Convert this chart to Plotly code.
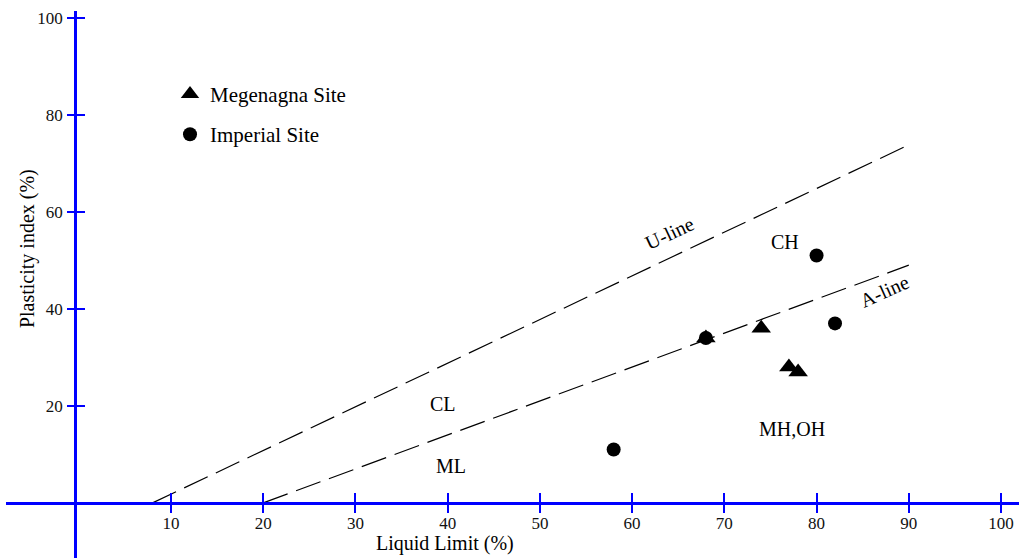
import plotly.graph_objects as go

# ---- data ----
meg_ll = [68, 74, 77, 78]
meg_pi = [34, 36, 28, 27]
imp_ll = [58, 68, 80, 82]
imp_pi = [11, 34, 51, 37]
u_line_ll = [8, 90]
u_line_pi = [0, 73.8]
a_line_ll = [20, 90]
a_line_pi = [0, 49]
x_ticks = [10, 20, 30, 40, 50, 60, 70, 80, 90, 100]
y_ticks = [20, 40, 60, 80, 100]

W, H = 1019, 558
x_range = [-7.89, 101.95]
y_range = [-11.36, 101.4]
x_dom = [6 / W, 1]
y_dom = [0, 1 - 9 / H]
y_axis_pos = 75 / W
x_axis_pos = y_dom[0] + (0 - y_range[0]) / (y_range[1] - y_range[0]) * (y_dom[1] - y_dom[0])

SERIF = "Liberation Serif"
dash = "26px,9px"
BLUE = "#0000FF"

fig = go.Figure()
fig.add_trace(go.Scatter(x=u_line_ll, y=u_line_pi, mode="lines", xaxis="x2", yaxis="y2",
                         line=dict(color="black", width=1.2, dash=dash), showlegend=False, hoverinfo="skip"))
fig.add_trace(go.Scatter(x=a_line_ll, y=a_line_pi, mode="lines",
                         line=dict(color="black", width=1.2, dash=dash), showlegend=False, hoverinfo="skip"))
fig.add_trace(go.Scatter(x=meg_ll, y=meg_pi, mode="markers", name="Megenagna Site", legendgroup="a",
                         marker=dict(symbol="triangle-up", size=17, color="black")))
fig.add_trace(go.Scatter(x=imp_ll, y=imp_pi, mode="markers", name="Imperial Site", legendgroup="b",
                         marker=dict(symbol="circle", size=14, color="black")))

tickfont = dict(family=SERIF, size=17, color="#111111")
common = dict(showgrid=False, zeroline=False)
fig.update_layout(
    width=W, height=H, margin=dict(l=0, r=0, t=0, b=0),
    plot_bgcolor="white", paper_bgcolor="white",
    xaxis=dict(domain=x_dom, range=x_range, anchor="free", position=x_axis_pos,
               showline=True, linecolor=BLUE, linewidth=2.5,
               ticks="inside", ticklen=9, tickwidth=2, tickcolor=BLUE, ticklabelstandoff=4,
               tickvals=x_ticks, tickfont=tickfont, **common),
    xaxis2=dict(overlaying="x", range=x_range, anchor="free", position=x_axis_pos,
                showline=False, ticks="outside", ticklen=9, tickwidth=2, tickcolor=BLUE,
                tickvals=x_ticks, showticklabels=False, **common),
    yaxis=dict(domain=y_dom, range=y_range, anchor="free", position=y_axis_pos,
               showline=True, linecolor=BLUE, linewidth=2.5,
               ticks="inside", ticklen=8, tickwidth=2, tickcolor=BLUE, ticklabelstandoff=8,
               tickvals=y_ticks, tickfont=tickfont, **common),
    yaxis2=dict(overlaying="y", range=y_range, anchor="free", position=y_axis_pos,
                showline=False, ticks="outside", ticklen=8, tickwidth=2, tickcolor=BLUE,
                tickvals=y_ticks, showticklabels=False, **common),
    legend=dict(x=170 / W, y=1 - 72 / H, xanchor="left", yanchor="top",
                font=dict(family=SERIF, size=21, color="black"),
                bgcolor="rgba(0,0,0,0)", tracegroupgap=10, traceorder="grouped"),
    showlegend=True,
)

lab = dict(family=SERIF, size=20, color="black")
annots = [
    dict(x=64.1, y=55.6, text="U-line", textangle=-25),
    dict(x=87.4, y=43.6, text="A-line", textangle=-24),
    dict(x=76.6, y=53.7, text="CH", textangle=0),
    dict(x=39.5, y=20.3, text="CL", textangle=0),
    dict(x=40.4, y=7.7, text="ML", textangle=0),
    dict(x=77.3, y=15.3, text="MH,OH", textangle=0),
]
for a in annots:
    fig.add_annotation(x=a["x"], y=a["y"], xref="x", yref="y", text=a["text"], textangle=a["textangle"],
                       xanchor="center", yanchor="middle", showarrow=False, font=lab)

fig.add_annotation(x=445 / W, y=0, xref="paper", yref="paper", xanchor="center", yanchor="bottom", yshift=1,
                   text="Liquid Limit (%)", showarrow=False, font=dict(family=SERIF, size=20, color="black"))
fig.add_annotation(x=27 / W, y=1 - 248 / H, xref="paper", yref="paper", xanchor="center", yanchor="middle",
                   text="Plasticity index (%)", textangle=-90, showarrow=False,
                   font=dict(family=SERIF, size=20, color="black"))

fig.write_html("out.html")
